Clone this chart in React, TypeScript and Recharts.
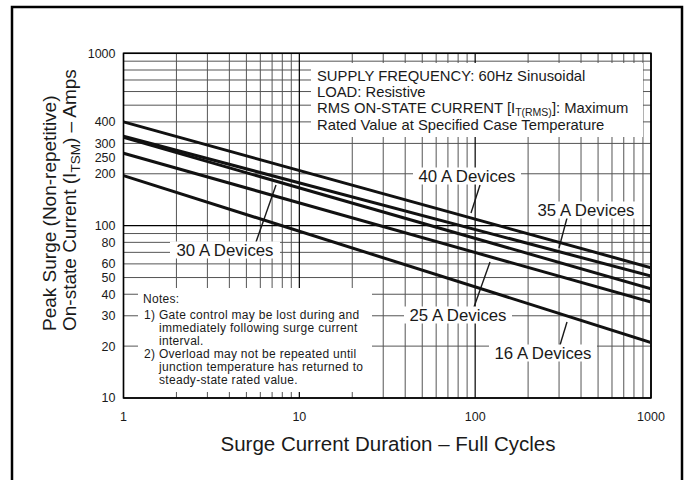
import React from 'react';
import { LineChart, Line, XAxis, YAxis, CartesianGrid, Customized } from 'recharts';

// surge duration (full cycles) at the two ends of each straight log-log line
const cycles = [1, 1000];
// peak surge current (A) per device rating
const amps16 = [195, 21];
const amps25 = [263, 36];
const amps30 = [325, 43];
const amps35 = [330, 51];
const amps40 = [400, 57];

const xTicks = [1, 10, 100, 1000];
const yTicks = [10, 20, 30, 40, 50, 60, 80, 100, 200, 250, 300, 400, 1000];
const xMinorGrid = [2, 3, 4, 5, 6, 7, 8, 9, 20, 30, 40, 50, 60, 70, 80, 90, 200, 300, 400, 500, 600, 700, 800, 900];
const yMinorGrid = [20, 30, 40, 50, 60, 70, 80, 90, 200, 300, 400, 500, 600, 700, 800, 900];
const xMajorGrid = [10, 100];
const yMajorGrid = [100];

const data = cycles.map((c, i) => ({
  cycles: c,
  a16: amps16[i],
  a25: amps25[i],
  a30: amps30[i],
  a35: amps35[i],
  a40: amps40[i],
}));

const FONT = '"Liberation Sans", Arial, Helvetica, sans-serif';
const INK = '#1a1a1a';

const deviceLabels = [
  { text: '40 A Devices', cx: 467, cy: 176, w: 108, lead: [480, 185, 471, 213] },
  { text: '35 A Devices', cx: 586, cy: 210, w: 108, lead: [567, 218, 559, 248] },
  { text: '30 A Devices', cx: 225, cy: 250, w: 110, lead: [256, 242, 276, 185] },
  { text: '25 A Devices', cx: 458, cy: 315, w: 108, lead: [490, 262, 474, 307] },
  { text: '16 A Devices', cx: 543, cy: 353, w: 108, lead: [567, 322, 560, 345] },
];

const notes = [
  { t: 'Notes:', x: 143, y: 303 },
  { t: '1) Gate control may be lost during and', x: 144, y: 318.5 },
  { t: 'immediately following surge current', x: 159, y: 331.5 },
  { t: 'interval.', x: 159, y: 344.5 },
  { t: '2) Overload may not be repeated until', x: 144, y: 357.5 },
  { t: 'junction temperature has returned to', x: 159, y: 370.5 },
  { t: 'steady-state rated value.', x: 159, y: 383.5 },
];

function Annotations() {
  return (
    <g fontFamily={FONT} fill={INK}>
      {/* outer frame */}
      <path d="M12,482 L12,7 L682,7 L682,482" fill="none" stroke="#000" strokeWidth={2.5} />

      {/* conditions box */}
      <rect x={311} y={63} width={332} height={74} fill="#fff" />
      <text x={317} y={80.5} fontSize={14.8}>SUPPLY FREQUENCY: 60Hz Sinusoidal</text>
      <text x={317} y={96.5} fontSize={14.8}>LOAD: Resistive</text>
      <text x={317} y={113} fontSize={14.8}>
        RMS ON-STATE CURRENT [I<tspan fontSize={10.5} dy={3}>T(RMS)</tspan>
        <tspan dy={-3}>]: Maximum</tspan>
      </text>
      <text x={317} y={129.5} fontSize={14.8}>Rated Value at Specified Case Temperature</text>

      {/* notes box */}
      <rect x={138} y={288} width={234} height={104} fill="#fff" />
      {notes.map((n) => (
        <text key={n.t} x={n.x} y={n.y} fontSize={12} letterSpacing={0.3}>{n.t}</text>
      ))}

      {/* device labels + leaders */}
      {deviceLabels.map((d) => (
        <g key={d.text}>
          <line x1={d.lead[0]} y1={d.lead[1]} x2={d.lead[2]} y2={d.lead[3]} stroke={INK} strokeWidth={1.4} />
          <rect x={d.cx - d.w / 2} y={d.cy - 8.5} width={d.w} height={17} fill="#fff" />
          <text x={d.cx} y={d.cy + 6} fontSize={16.8} textAnchor="middle">{d.text}</text>
        </g>
      ))}

      {/* plot border */}
      <rect x={123.5} y={53.3} width={527.5} height={344.7} fill="none" stroke="#000" strokeWidth={1.5} />

      {/* axis titles */}
      <text x={388} y={450.5} fontSize={20.5} textAnchor="middle">Surge Current Duration – Full Cycles</text>
      <text transform="translate(56,331) rotate(-90)" fontSize={19}>
        Peak Surge (Non-repetitive)
      </text>
      <text transform="translate(76,331) rotate(-90)" fontSize={19}>
        On-state Current (I<tspan fontSize={13.5} dy={4}>TSM</tspan>
        <tspan dy={-4}>) – Amps</tspan>
      </text>
    </g>
  );
}

const logX = { type: 'number' as const, scale: 'log' as const, domain: [1, 1000], allowDataOverflow: true };
const logY = { type: 'number' as const, scale: 'log' as const, domain: [10, 1000], allowDataOverflow: true };

export default function App() {
  return (
    <div style={{ position: 'absolute', left: 0, top: 0, width: 684, height: 480, background: '#fff' }}>
      <LineChart width={684} height={480} data={data} margin={{ top: 53.3, right: 33, bottom: 52, left: 0.5 }}>
        <XAxis
          {...logX}
          dataKey="cycles"
          ticks={xTicks}
          interval={0}
          axisLine={false}
          tickLine={false}
          tickMargin={8}
          height={30}
          tick={{ fill: INK, fontSize: 12.5, fontFamily: FONT }}
        />
        <YAxis
          {...logY}
          ticks={yTicks}
          interval={0}
          axisLine={false}
          tickLine={false}
          width={123}
          tick={{ fill: INK, fontSize: 12.5, fontFamily: FONT }}
        />
        <XAxis {...logX} xAxisId="minor" dataKey="cycles" ticks={xMinorGrid} interval={0} hide />
        <YAxis {...logY} yAxisId="minor" ticks={yMinorGrid} interval={0} hide />
        <XAxis {...logX} xAxisId="major" dataKey="cycles" ticks={xMajorGrid} interval={0} hide />
        <YAxis {...logY} yAxisId="major" ticks={yMajorGrid} interval={0} hide />
        <CartesianGrid xAxisId="minor" yAxisId="minor" stroke="#555" strokeWidth={1} />
        <CartesianGrid xAxisId="major" yAxisId="major" stroke="#000" strokeWidth={1.2} />
        <Line dataKey="a40" stroke="#111" strokeWidth={3} dot={false} isAnimationActive={false} />
        <Line dataKey="a35" stroke="#111" strokeWidth={3} dot={false} isAnimationActive={false} />
        <Line dataKey="a30" stroke="#111" strokeWidth={3} dot={false} isAnimationActive={false} />
        <Line dataKey="a25" stroke="#111" strokeWidth={3} dot={false} isAnimationActive={false} />
        <Line dataKey="a16" stroke="#111" strokeWidth={3} dot={false} isAnimationActive={false} />
        <Customized component={<Annotations />} />
      </LineChart>
    </div>
  );
}
